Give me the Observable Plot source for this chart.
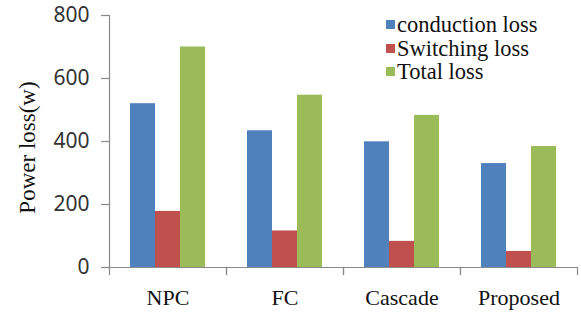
<!DOCTYPE html>
<html>
<head>
<meta charset="utf-8">
<script src="https://cdn.jsdelivr.net/npm/d3@7"></script>
<script src="https://cdn.jsdelivr.net/npm/@observablehq/plot@0.6"></script>
<style>
  html, body { margin: 0; padding: 0; background: #fff; }
  #wrap { position: relative; width: 581px; height: 313px; }
  #legend { position: absolute; left: 386px; top: 13px; font-family: "Liberation Serif", "Times New Roman", serif; font-size: 22.5px; color: #111; }
  #legend .row { height: 23.5px; line-height: 23.5px; display: flex; align-items: center; white-space: nowrap; }
  #legend .sw { width: 9px; height: 9px; margin-right: 2px; display: inline-block; }
</style>
</head>
<body>
<div id="wrap"></div>
<script>
const categories = ["NPC", "FC", "Cascade", "Proposed"];
const series = ["conduction loss", "Switching loss", "Total loss"];
const conduction = [520, 434, 399, 330];
const switching = [178, 116, 83, 51];
const total = [700, 547, 483, 384];
const colors = ["#4F81BD", "#C0504D", "#9BBB59"];
const yTicks = [0, 200, 400, 600, 800];
const yLabel = "Power loss(w)";

const values = [conduction, switching, total];
const data = [];
categories.forEach((c, i) => series.forEach((s, j) => data.push({category: c, series: s, value: values[j][i]})));

const axisColor = "#8a8a8a";
const plotH = 313 - 15 - 46;

const chart = Plot.plot({
  width: 581,
  height: 313,
  marginLeft: 108,
  marginRight: 4,
  marginTop: 15,
  marginBottom: 46,
  style: {background: "transparent", overflow: "visible"},
  fx: {domain: categories, padding: 0, label: null, axis: null},
  x: {domain: series, paddingInner: 0, paddingOuter: 0.755, axis: null},
  y: {domain: [0, 800], label: null, axis: null},
  color: {domain: series, range: colors},
  marks: [
    Plot.barY(data, {fx: "category", x: "series", y: "value", fill: "series"}),
    Plot.ruleY([0], {stroke: axisColor, strokeWidth: 1.2}),
    Plot.frame({anchor: "left", stroke: axisColor, strokeWidth: 1.2, insetTop: plotH, insetBottom: -7}),
    Plot.frame({anchor: "right", stroke: axisColor, strokeWidth: 1.2, insetTop: plotH, insetBottom: -7}),
    Plot.frame({anchor: "left", stroke: axisColor, strokeWidth: 1.2, facetAnchor: "left"}),
    Plot.axisY(yTicks, {tickSize: 8, tickPadding: 12, stroke: axisColor, fontSize: 21, fontFamily: "Noto Sans", fill: "#333", label: null, strokeWidth: 1.2}),
    Plot.axisFx({anchor: "bottom", tickSize: 0, tickPadding: 22, fontSize: 22, fontFamily: "Liberation Serif", fill: "#111", label: null}),
    Plot.text([yLabel], {frameAnchor: "left", textAnchor: "middle", lineAnchor: "middle", rotate: -90, dx: -82, dy: 6, fontSize: 23, fontFamily: "Liberation Serif", fill: "#111", facetAnchor: "left"})
  ]
});
document.getElementById("wrap").appendChild(chart);

const legend = document.createElement("div");
legend.id = "legend";
series.forEach((s, j) => {
  const row = document.createElement("div");
  row.className = "row";
  const sw = document.createElement("span");
  sw.className = "sw";
  sw.style.background = colors[j];
  row.appendChild(sw);
  row.appendChild(document.createTextNode(s));
  legend.appendChild(row);
});
document.getElementById("wrap").appendChild(legend);
</script>
</body>
</html>
